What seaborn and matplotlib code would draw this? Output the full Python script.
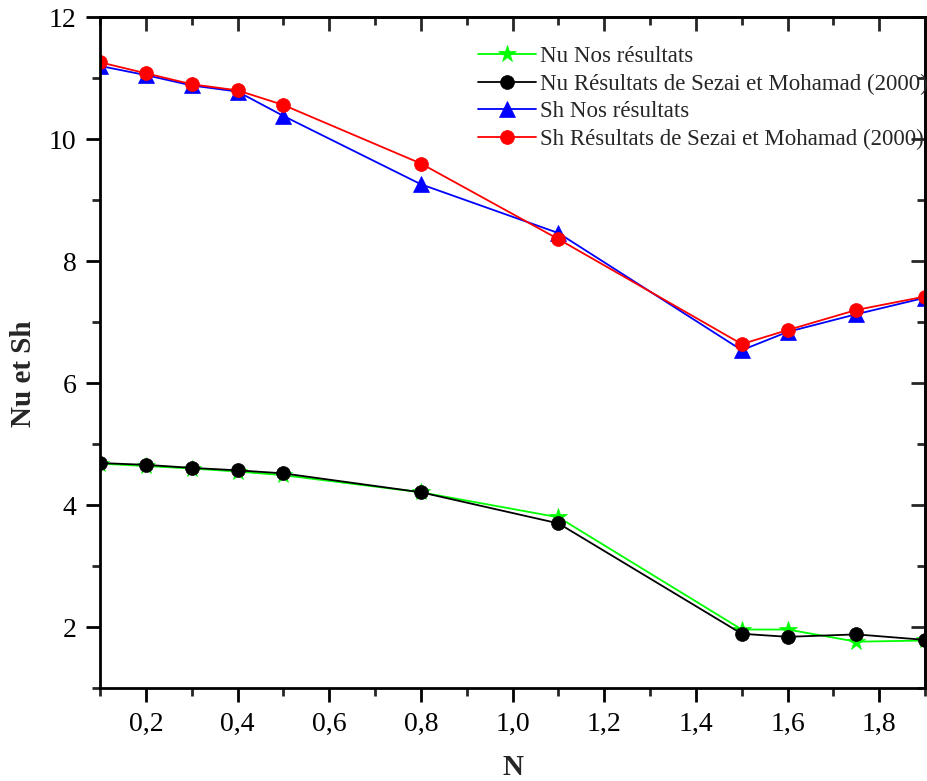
import matplotlib
matplotlib.use("Agg")
import matplotlib.pyplot as plt
import seaborn as sns
from matplotlib.ticker import MultipleLocator, FuncFormatter

# Buoyancy ratio N
N = [0.1, 0.2, 0.3, 0.4, 0.5, 0.8, 1.1, 1.5, 1.6, 1.75, 1.9]

# Nusselt number
nu_nos = [4.68, 4.64, 4.60, 4.55, 4.49, 4.21, 3.80, 1.96, 1.96, 1.76, 1.78]
nu_sezai = [4.69, 4.66, 4.61, 4.57, 4.52, 4.21, 3.70, 1.89, 1.84, 1.88, 1.79]

# Sherwood number
sh_nos = [11.20, 11.05, 10.88, 10.78, 10.38, 9.26, 8.46, 6.54, 6.84, 7.13, 7.40]
sh_sezai = [11.26, 11.08, 10.90, 10.80, 10.56, 9.60, 8.36, 6.64, 6.87, 7.20, 7.42]

labels = [
    "Nu Nos résultats",
    "Nu Résultats de Sezai et Mohamad (2000)",
    "Sh Nos résultats",
    "Sh Résultats de Sezai et Mohamad (2000)",
]

sns.set_theme(style="white")
plt.rcParams["font.family"] = ["Liberation Serif", "DejaVu Serif"]

fig = plt.figure(figsize=(9.27, 7.81), dpi=100)
ax = fig.add_axes([0.108, 0.119, 0.890, 0.859])

series = [
    (nu_nos, "#00ff00", "*", 13),
    (nu_sezai, "black", "o", 10),
    (sh_nos, "blue", "^", 11),
    (sh_sezai, "red", "o", 10),
]
for (vals, col, mk, ms), lab in zip(series, labels):
    sns.lineplot(x=N, y=vals, ax=ax, color=col, marker=mk, markersize=ms,
                 markeredgecolor=col, markeredgewidth=0.5, linewidth=1.3,
                 label=lab, sort=False)

ax.set_xlim(0.1, 1.9)
ax.set_ylim(1, 12)

comma = FuncFormatter(lambda v, p: f"{v:.1f}".replace(".", ","))
ax.xaxis.set_major_locator(MultipleLocator(0.2))
ax.xaxis.set_minor_locator(MultipleLocator(0.1))
ax.xaxis.set_major_formatter(comma)
ax.yaxis.set_major_locator(MultipleLocator(2))
ax.yaxis.set_minor_locator(MultipleLocator(1))
ax.yaxis.set_major_formatter(FuncFormatter(lambda v, p: f"{v:.0f}"))

ax.tick_params(which="major", direction="out", length=10, width=2,
               labelsize=20, colors="black", pad=7, bottom=True, left=True)
ax.tick_params(which="minor", direction="out", length=6, width=2,
               bottom=True, left=True)

for sp in ax.spines.values():
    sp.set_linewidth(2)
    sp.set_color("black")

# mirrored axes with inward ticks on top and right
secx = ax.secondary_xaxis("top")
secx.xaxis.set_major_locator(MultipleLocator(0.2))
secx.xaxis.set_minor_locator(MultipleLocator(0.1))
secx.tick_params(which="major", direction="in", length=10, width=2, labeltop=False)
secx.tick_params(which="minor", direction="in", length=6, width=2)
secx.spines["top"].set_linewidth(2)

secy = ax.secondary_yaxis("right")
secy.yaxis.set_major_locator(MultipleLocator(2))
secy.yaxis.set_minor_locator(MultipleLocator(1))
secy.tick_params(which="major", direction="in", length=10, width=2, labelright=False)
secy.tick_params(which="minor", direction="in", length=6, width=2)
secy.spines["right"].set_linewidth(2)

ax.set_xlabel("N", fontsize=21, fontweight="bold")
ax.set_ylabel("Nu et Sh", fontsize=21, fontweight="bold")
ax.xaxis.set_label_coords(0.5, -0.098)
ax.yaxis.set_label_coords(-0.076, 0.469)

ax.legend(loc="upper left", bbox_to_anchor=(0.516, 0.941),
          bbox_transform=fig.transFigure, frameon=False, fontsize=16.5,
          borderpad=0, borderaxespad=0, handletextpad=0.2,
          handlelength=2.5, labelspacing=0.28)

fig.savefig("out.png", dpi=100)
